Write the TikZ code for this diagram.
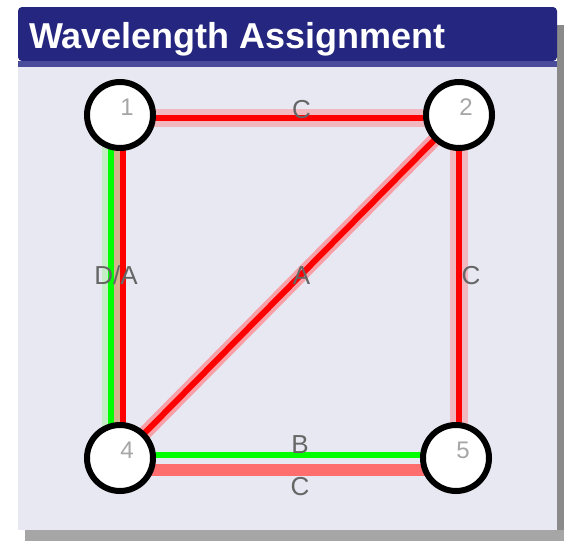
\documentclass[tikz,border=0pt]{standalone}
\usepackage{fontspec}
\setmainfont{Liberation Sans}
\usepackage{xcolor}
\usepackage{tikz}
\usetikzlibrary{positioning,calc}
\definecolor{titleblue}{HTML}{25267F}
\definecolor{titlestripe}{HTML}{4B4B9B}
\definecolor{panelbg}{HTML}{E8E8F3}
\definecolor{shadowdark}{HTML}{8A8A8A}
\definecolor{shadowlight}{HTML}{A6A6A6}
\definecolor{pinkhalo}{HTML}{F2B8C0}
\definecolor{diaghalo}{HTML}{F8A0A8}
\definecolor{salmon}{HTML}{FF6E6E}
\definecolor{palegreen}{HTML}{C6EEC6}
\definecolor{tanband}{HTML}{D4B48C}
\definecolor{lamred}{HTML}{FF0000}
\definecolor{lamgreen}{HTML}{00FF00}
\pgfdeclarelayer{bg}
\pgfdeclarelayer{edges}
\pgfsetlayers{bg,edges,main}
\tikzset{
  station/.style={draw=black, circle, fill=white, line width=6pt, minimum size=66pt, inner sep=0pt},
  nlabel/.style={text=gray!70, font=\fontsize{24}{24}\selectfont, inner sep=0pt, xshift=7pt, yshift=8pt},
  elabel/.style={text=black!60, font=\fontsize{26}{26}\selectfont, inner sep=0pt, xshift=12pt, yshift=11pt},
  halo/.style={line width=18pt, pinkhalo},
  redline/.style={line width=6pt, lamred},
  greenline/.style={line width=6pt, lamgreen},
  band/.style={line width=6pt}
}
\begin{document}
\begin{tikzpicture}[x=1pt,y=-1pt]
\useasboundingbox (0,0) rectangle (564,541);

\begin{pgfonlayer}{bg}
\fill[white] (0,0) rectangle (564,541);
\fill[shadowdark] (557,25) rectangle (564,541);
\fill[shadowlight] (25,530) rectangle (564,541);
\fill[panelbg] (18,67) rectangle (557,530);
\fill[titleblue, rounded corners=4pt] (18,61) -- (18,7) -- (557,7) -- (557,61) -- cycle;
\fill[titlestripe] (18,61) rectangle (557,67);
\end{pgfonlayer}

\node[anchor=base west, text=white, font=\fontsize{36}{36}\selectfont\bfseries, inner sep=0pt] (title) at (29,48) {Wavelength Assignment};

\node[station, label={[nlabel]center:1}] (n1) at (120,115) {};
\node[station, label={[nlabel]center:2}] (n2) at (459,115) {};
\node[station, label={[nlabel]center:4}] (n4) at (120,458) {};
\node[station, label={[nlabel]center:5}] (n5) at (456,458) {};

\begin{pgfonlayer}{edges}
% 1 -- 2
\draw[halo] ([yshift=-3pt]n1.center) -- ([yshift=-3pt]n2.center);
\draw[redline] ([yshift=-3pt]n1.center) -- node[elabel, yshift=-3pt]{C} ([yshift=-3pt]n2.center);
% 2 -- 5
\draw[halo] (n2.center) -- (n2.center |- n5.center);
\draw[redline] (n2.center) -- node[elabel]{C} (n2.center |- n5.center);
% 2 -- 4
\draw[line width=14pt, diaghalo] (n2.center) -- (n4.center);
\draw[redline] (n2.center) -- node[elabel]{A} (n4.center);
% 1 -- 4
\draw[band, palegreen] ([xshift=-15pt]n1.center) -- ([xshift=-15pt]n4.center);
\draw[greenline] ([xshift=-9pt]n1.center) -- ([xshift=-9pt]n4.center);
\draw[band, tanband] ([xshift=-3pt]n1.center) -- ([xshift=-3pt]n4.center);
\draw[redline] ([xshift=3pt]n1.center) -- node[elabel, xshift=-19pt]{D/A} ([xshift=3pt]n4.center);
% 4 -- 5
\draw[greenline] ([yshift=3pt]n4.center) -- node[elabel, yshift=-1pt]{B} ([yshift=3pt]n5.center);
\draw[line width=12pt, salmon] ([yshift=-12pt]n4.center) -- node[elabel, yshift=-28pt]{C} ([yshift=-12pt]n5.center);
\end{pgfonlayer}
\end{tikzpicture}
\end{document}
